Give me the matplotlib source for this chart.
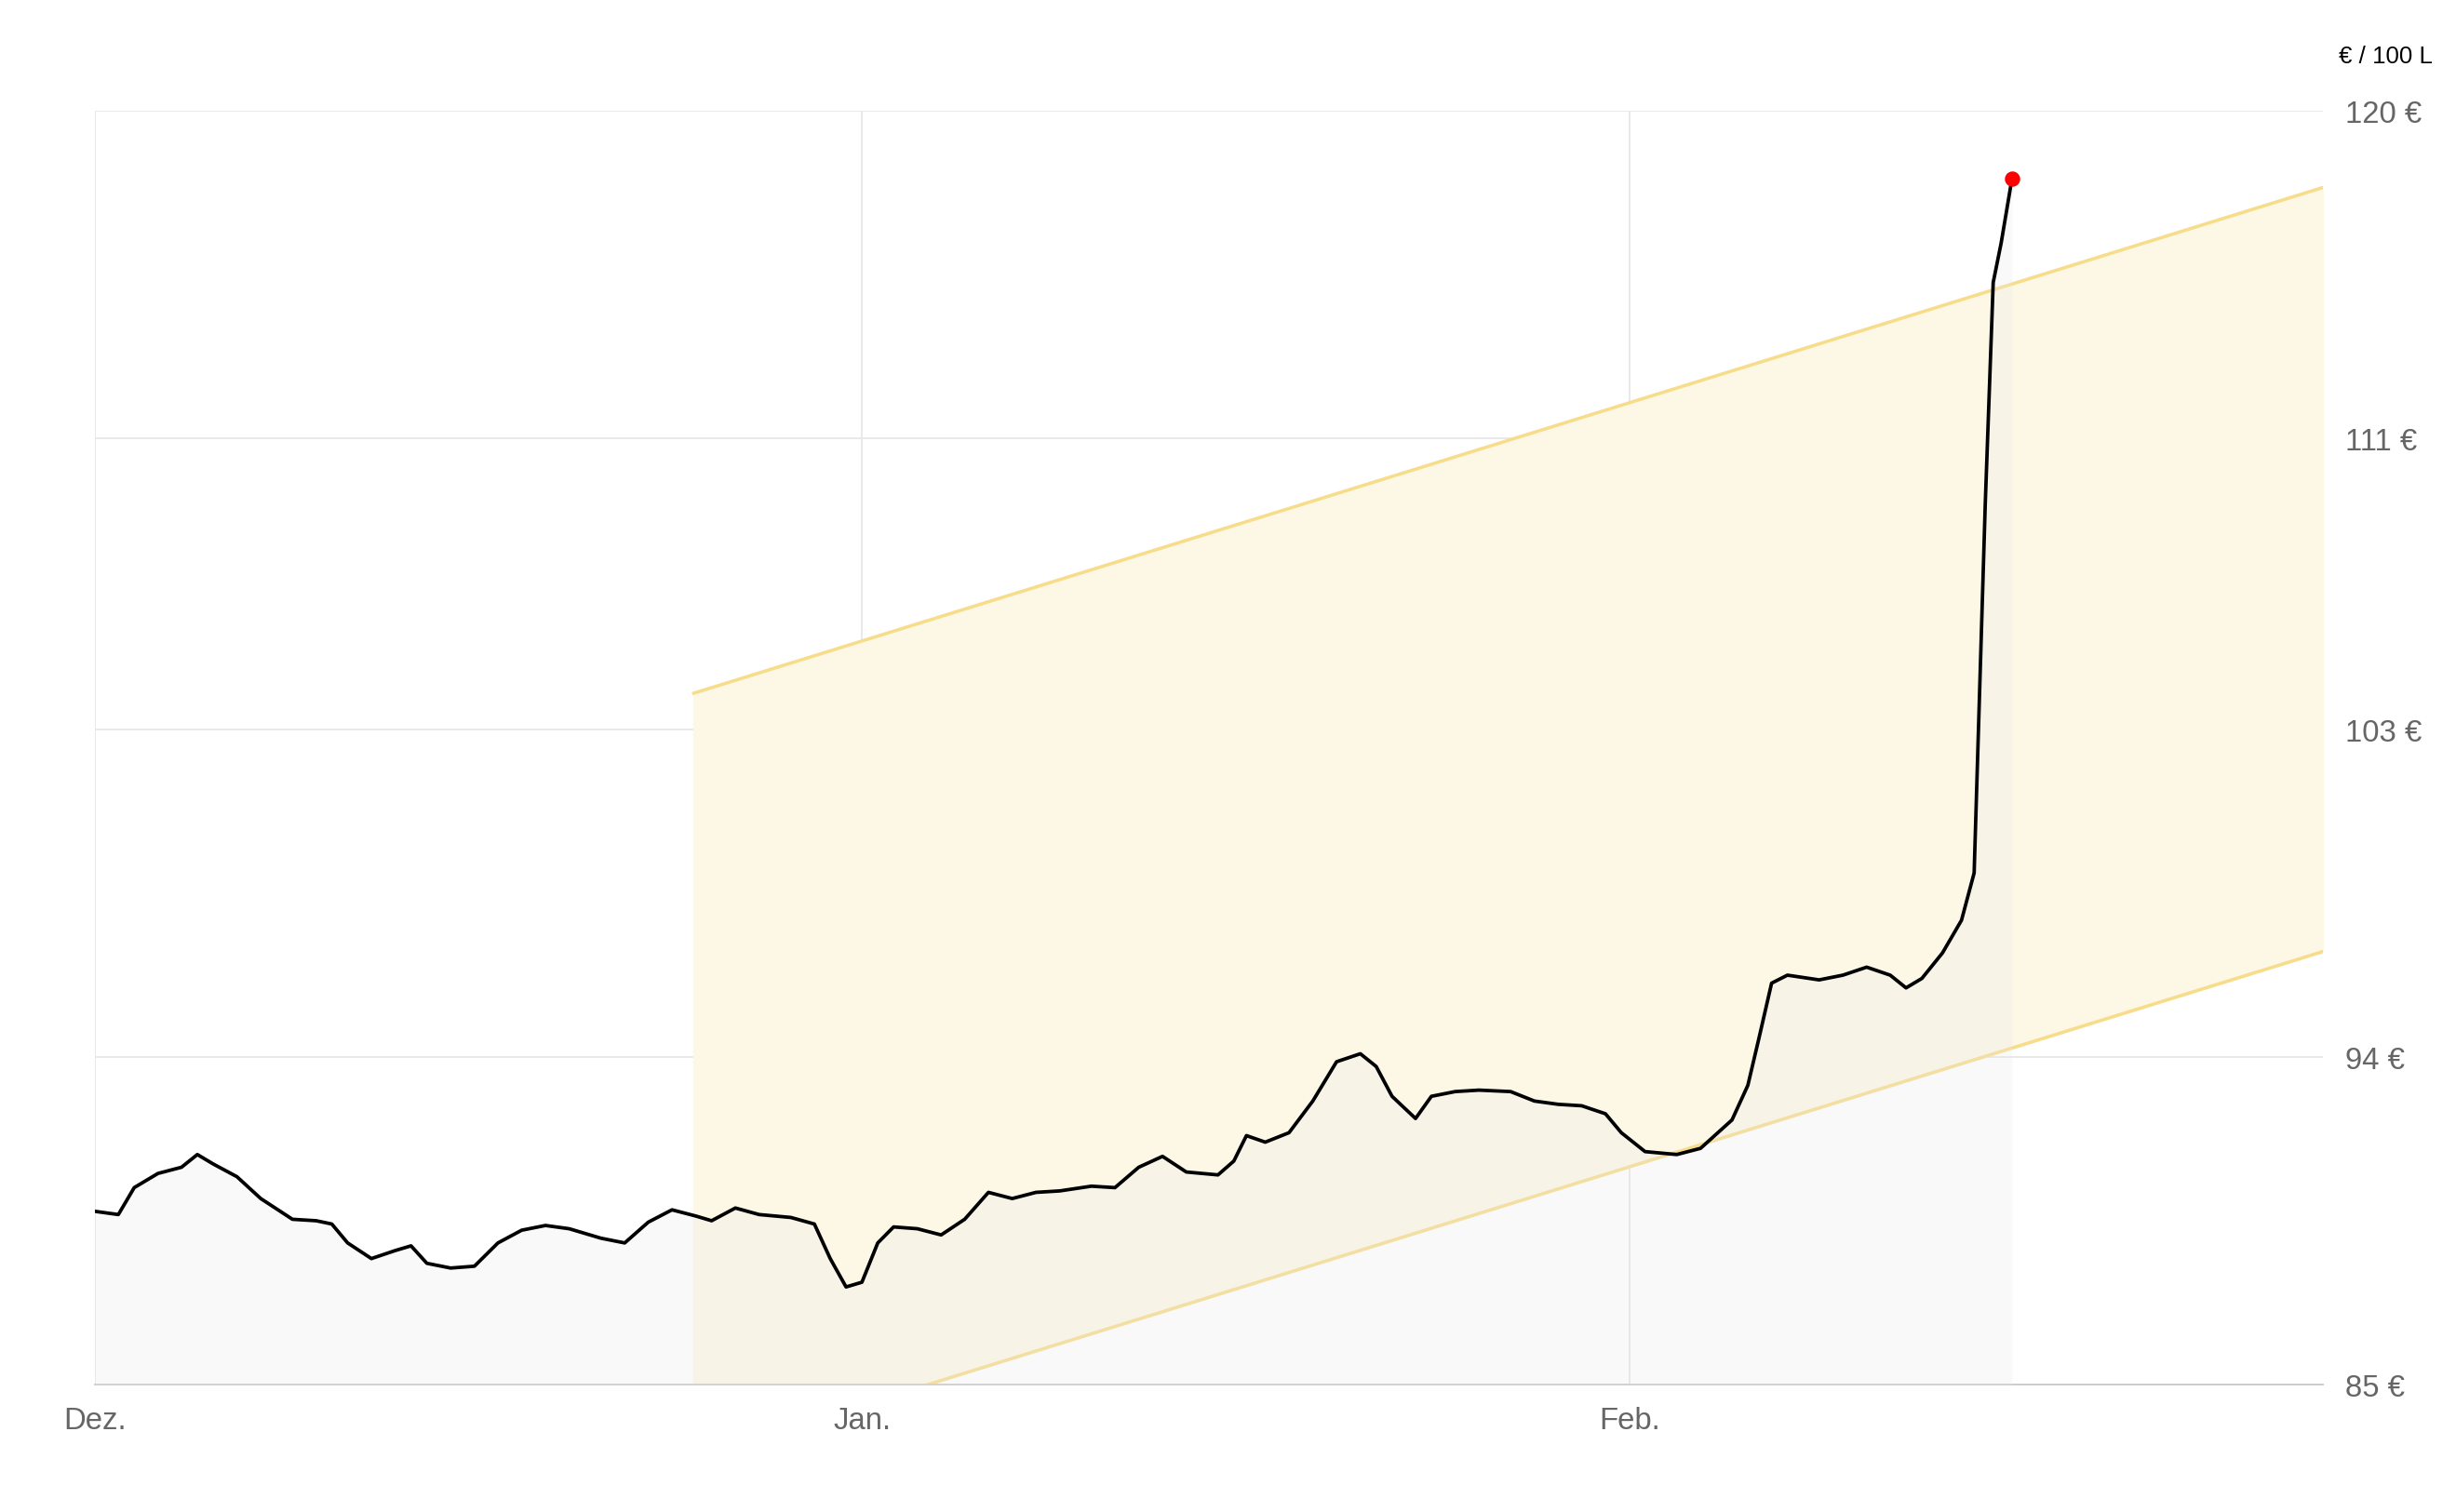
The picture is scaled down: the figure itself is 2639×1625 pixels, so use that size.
import matplotlib
matplotlib.use('Agg')
import matplotlib.pyplot as plt
import numpy as np

plt.rcParams['font.family'] = ['Liberation Sans', 'DejaVu Sans']

# Tage seit 1. Dez. und Preis in EUR / 100 L
tage = [0, 0.96, 1.6, 2.56, 3.51, 4.15, 4.79, 5.75, 6.71, 7.99, 8.95, 9.58, 10.22,
        11.18, 12.14, 12.78, 13.42, 14.38, 15.34, 16.29, 17.25, 18.21, 19.17, 20.45,
        21.41, 22.36, 23.32, 24.28, 24.92, 25.88, 26.84, 28.12, 29.07, 29.71, 30.35,
        30.99, 31.63, 32.27, 33.23, 34.19, 35.14, 36.1, 37.06, 38.02, 38.98, 40.26,
        41.21, 42.17, 43.13, 44.09, 45.37, 46.01, 46.52, 47.28, 48.24, 49.2, 50.16,
        51.12, 51.76, 52.4, 53.35, 53.99, 54.95, 55.91, 57.19, 58.15, 59.11, 60.06,
        61.02, 61.66, 62.62, 63.9, 64.86, 66.13, 66.77, 67.22, 67.73, 68.37, 69.65,
        70.61, 71.57, 72.52, 73.16, 73.8, 74.63, 75.4, 75.91, 76.36, 76.68, 77.0, 77.44]
preis = [89.76, 89.67, 90.41, 90.80, 90.97, 91.32, 91.06, 90.71, 90.11, 89.54, 89.50,
         89.41, 88.89, 88.46, 88.68, 88.81, 88.33, 88.20, 88.25, 88.89, 89.24, 89.37,
         89.28, 89.02, 88.89, 89.46, 89.80, 89.63, 89.50, 89.85, 89.67, 89.59, 89.41,
         88.46, 87.68, 87.81, 88.89, 89.33, 89.28, 89.11, 89.54, 90.28, 90.11, 90.28,
         90.32, 90.45, 90.41, 90.97, 91.27, 90.84, 90.76, 91.14, 91.84, 91.66, 91.92,
         92.79, 93.87, 94.09, 93.74, 92.92, 92.31, 92.92, 93.05, 93.09, 93.05, 92.79,
         92.70, 92.66, 92.44, 91.92, 91.40, 91.32, 91.49, 92.27, 93.22, 94.52, 96.03,
         96.25, 96.12, 96.25, 96.47, 96.25, 95.90, 96.16, 96.86, 97.76, 99.06, 109.23,
         115.29, 116.37, 118.15]

# Trendkanal
kanal_x = [24.2, 90]
kanal_oben = [104.0, 117.9]
kanal_unten = [83.0, 96.9]

monate = ['Dez.', 'Jan.', 'Feb.']
monat_pos = [0, 31, 62]
y_ticks = [85, 94, 103, 111, 120]

fig = plt.figure(figsize=(15.6, 9.608), dpi=169.23)
ax = fig.add_axes([0.0385, 0.0843, 0.907, 0.8417])

ax.fill_between(kanal_x, kanal_unten, kanal_oben, color='#fdf8e6', zorder=1)
ax.plot(kanal_x, kanal_oben, color='#f7dc8a', lw=1.5, zorder=2)
ax.plot(kanal_x, kanal_unten, color='#f7dc8a', lw=1.5, zorder=2)

ax.fill_between(tage, preis, 85, color='#e8e8e8', alpha=0.25, lw=0, zorder=3)
ax.plot(tage, preis, color='black', lw=1.6, zorder=4)
ax.plot(tage[-1], preis[-1], 'o', color='red', ms=6, zorder=5)

ax.set_xlim(0, 90)
ax.set_ylim(85, 120)
ax.set_xticks(monat_pos)
ax.set_xticklabels(monate)
ax.set_yticks(y_ticks)
ax.set_yticklabels([f'{v} €' for v in y_ticks])
ax.yaxis.tick_right()
ax.tick_params(length=0, labelsize=14, colors='#666666', pad=10)
ax.grid(True, color='#e8e8e8', lw=0.8)
ax.set_axisbelow(True)
for s in ['top', 'left', 'right']:
    ax.spines[s].set_visible(False)
ax.spines['bottom'].set_color('#cccccc')

fig.text(0.99, 0.955, '€ / 100 L', ha='right', va='bottom', fontsize=11, color='black')

fig.savefig('out.png')
